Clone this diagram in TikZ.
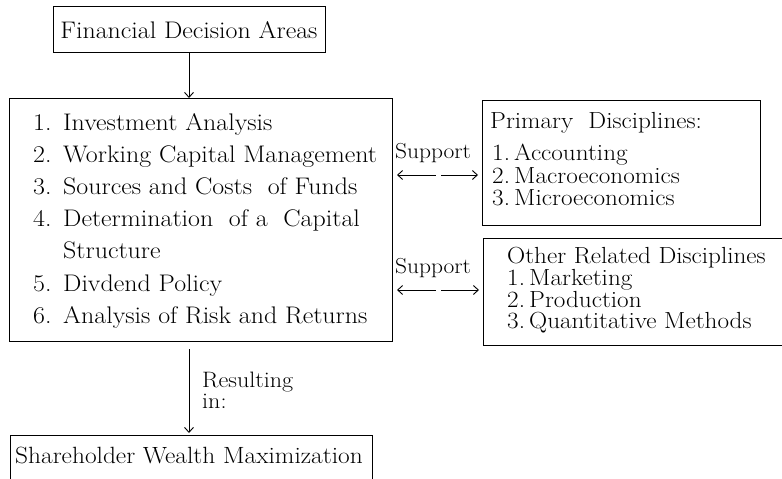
\documentclass[tikz,border=0pt]{standalone}
\usepackage{fontspec}
\setmainfont{Latin Modern Roman}[FakeStretch=1.08]
\usetikzlibrary{arrows.meta}
\begin{document}
\begin{tikzpicture}[x=1pt,y=-1pt,
  box/.style={draw, line width=0.9pt, inner sep=0pt, outer sep=0pt},
  txt/.style={anchor=base west, inner sep=0pt, font=\fontsize{24}{26}\selectfont},
  rtxt/.style={txt, font=\fontsize{23.3}{25}\selectfont},
  stxt/.style={txt, font=\fontsize{21.7}{24}\selectfont},
  ctxt/.style={anchor=base, inner sep=0pt, font=\fontsize{24}{26}\selectfont},
  arr/.style={line width=0.9pt, -{Straight Barb[length=5pt,width=9pt]}},
  darr/.style={line width=0.9pt, {Straight Barb[length=5pt,width=9pt]}-{Straight Barb[length=5pt,width=9pt]}, dash pattern=on 38pt off 5pt on 80pt}]
\useasboundingbox (0,0) rectangle (782,479);
% boxes
\node[box, minimum width=272, minimum height=46] (top) at (189,29) {};
\node[box, minimum width=383, minimum height=243] (main) at (200.5,219.5) {};
\node[box, minimum width=278, minimum height=125] (prim) at (621,162.5) {};
\node[box, minimum width=302, minimum height=107] (other) at (634,291.5) {};
\node[box, minimum width=362, minimum height=50] (bot) at (191,460) {};
% texts
\node[ctxt] (toptext) at (189,38) {Financial Decision Areas};
\newcommand{\numit}[1]{\makebox[30pt][l]{#1}}
\node[txt] (m1) at (33,130) {\numit{1.}Investment Analysis};
\node[txt] (m2) at (33,162.2) {\numit{2.}Working Capital Management};
\node[txt] (m3) at (33,194.4) {\numit{3.}Sources and Costs\ \ of Funds};
\node[txt] (m4) at (33,226.6) {\numit{4.}Determination\ \ of a\ \ Capital};
\node[txt] (m4b) at (63,258.8) {Structure};
\node[txt] (m5) at (33,291) {\numit{5.}Divdend Policy};
\node[txt] (m6) at (33,323.2) {\numit{6.}Analysis of Risk and Returns};
\newcommand{\numr}[1]{\makebox[22pt][l]{#1}}
\node[rtxt] (p0) at (490,128) {Primary\ \ Disciplines:};
\node[rtxt] (p1) at (492,160) {\numr{1.}Accounting};
\node[rtxt] (p2) at (492,183) {\numr{2.}Macroeconomics};
\node[rtxt] (p3) at (492,205) {\numr{3.}Microeconomics};
\node[rtxt] (o0) at (507,263) {Other Related Disciplines};
\node[rtxt] (o1) at (507,285) {\numr{1.}Marketing};
\node[rtxt] (o2) at (507,307) {\numr{2.}Production};
\node[rtxt] (o3) at (507,328) {\numr{3.}Quantitative Methods};
\node[stxt] (s1) at (395,158) {Support};
\node[stxt] (s2) at (395,273) {Support};
\node[txt, font=\fontsize{22.3}{24}\selectfont] (r1) at (202,387) {Resulting};
\node[txt, font=\fontsize{22.3}{24}\selectfont] (r2) at (202,408) {in:};
\node[ctxt, font=\fontsize{23.5}{26}\selectfont] (bottext) at (189,463) {Shareholder\ Wealth\ Maximization};
% connectors
\draw[arr] (top.south) -- (top.south |- main.north);
\draw[arr, shorten <=8pt, shorten >=2pt] (top.south |- main.south) -- (top.south |- bot.north);
\coordinate (a1) at (0,175);
\coordinate (a2) at (0,290);
\draw[darr, shorten <=5pt, shorten >=4pt] (main.east |- a1) -- (prim.west |- a1);
\draw[darr, shorten <=5pt, shorten >=4pt] (main.east |- a2) -- (other.west |- a2);
\end{tikzpicture}
\end{document}
